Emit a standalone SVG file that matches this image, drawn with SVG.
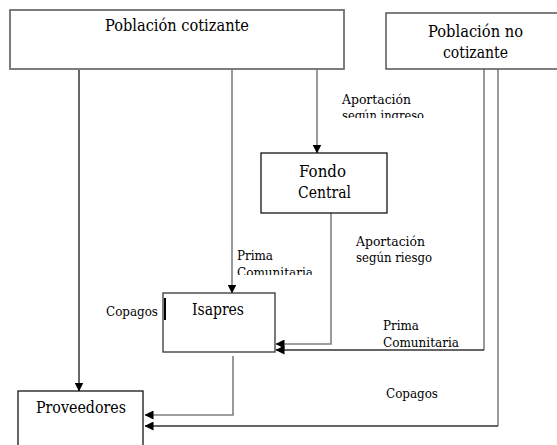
<svg xmlns="http://www.w3.org/2000/svg" width="557" height="445" viewBox="0 0 557 445">
<style>
.box{fill:#fff}
text{fill:#000;font-family:"DejaVu Serif",serif}
.t{font-size:16px}
.l{font-size:13.5px}
.g{stroke:#808080;stroke-width:1.6;fill:none}
.k{stroke:#000;stroke-width:1.2;fill:none}
.d{stroke:#333;stroke-width:1.4;fill:none}
</style>
<defs>
<marker id="ah" markerUnits="userSpaceOnUse" markerWidth="9" markerHeight="9" viewBox="0 0 9 9" refX="8.5" refY="4.5" orient="auto">
<path d="M0,0 L9,4.5 L0,9 Z" fill="#000"/>
</marker>
<clipPath id="c1"><rect x="330" y="80" width="120" height="38"/></clipPath>
<clipPath id="c2"><rect x="230" y="240" width="120" height="35"/></clipPath>
</defs>
<rect width="557" height="445" fill="#fff"/>
<g id="connectors">
<path class="k" d="M79,70 V391" marker-end="url(#ah)"/>
<path class="g" d="M232,70 V293" marker-end="url(#ah)"/>
<path class="g" d="M317,70 V153" marker-end="url(#ah)"/>
<path class="g" d="M331,213 V344 H276" marker-end="url(#ah)"/>
<path class="g" d="M484,69 V350"/>
<path class="d" d="M484,350 H276" marker-end="url(#ah)"/>
<path class="g" d="M233,356 V415 H145" marker-end="url(#ah)"/>
<path class="g" d="M498,69 V426"/>
<path class="d" d="M498,426 H145" marker-end="url(#ah)"/>
</g>
<g id="poblacion-cotizante">
<rect class="box" x="10" y="10" width="334" height="59" stroke="#6e6e6e" stroke-width="1.8"/>
<text class="t" x="105" y="31" textLength="144" lengthAdjust="spacingAndGlyphs">Población cotizante</text>
</g>
<g id="poblacion-no-cotizante">
<rect class="box" x="386" y="13" width="176" height="56" stroke="#555" stroke-width="1.5"/>
<text class="t" x="428" y="37" textLength="95" lengthAdjust="spacingAndGlyphs">Población no</text>
<text class="t" x="443" y="58" textLength="65" lengthAdjust="spacingAndGlyphs">cotizante</text>
</g>
<g id="fondo-central">
<rect class="box" x="261" y="153" width="126" height="60" stroke="#000" stroke-width="1.2"/>
<text class="t" x="299" y="177" textLength="47" lengthAdjust="spacingAndGlyphs">Fondo</text>
<text class="t" x="298" y="198" textLength="53" lengthAdjust="spacingAndGlyphs">Central</text>
</g>
<g id="isapres">
<rect class="box" x="163" y="293" width="112" height="59" stroke="#444" stroke-width="1.4"/>
<line x1="165" y1="298" x2="165" y2="320" stroke="#000" stroke-width="2"/>
<text class="t" x="192" y="315" textLength="52" lengthAdjust="spacingAndGlyphs">Isapres</text>
</g>
<g id="proveedores">
<rect class="box" x="18" y="391" width="125" height="60" stroke="#000" stroke-width="1.2"/>
<text class="t" x="36" y="413" textLength="90" lengthAdjust="spacingAndGlyphs">Proveedores</text>
</g>
<g id="labels">
<g clip-path="url(#c1)">
<text class="l" x="342" y="104" textLength="69" lengthAdjust="spacingAndGlyphs">Aportación</text>
<text class="l" x="342" y="120" textLength="82" lengthAdjust="spacingAndGlyphs">según ingreso</text>
</g>
<g clip-path="url(#c2)">
<text class="l" x="237" y="260" textLength="36" lengthAdjust="spacingAndGlyphs">Prima</text>
<text class="l" x="237" y="277" textLength="76" lengthAdjust="spacingAndGlyphs">Comunitaria</text>
</g>
<text class="l" x="356" y="246" textLength="69" lengthAdjust="spacingAndGlyphs">Aportación</text>
<text class="l" x="356" y="262" textLength="76" lengthAdjust="spacingAndGlyphs">según riesgo</text>
<text class="l" x="383" y="330" textLength="36" lengthAdjust="spacingAndGlyphs">Prima</text>
<text class="l" x="383" y="347" textLength="76" lengthAdjust="spacingAndGlyphs">Comunitaria</text>
<text class="l" x="106" y="316" textLength="52" lengthAdjust="spacingAndGlyphs">Copagos</text>
<text class="l" x="386" y="398" textLength="52" lengthAdjust="spacingAndGlyphs">Copagos</text>
</g>
</svg>
